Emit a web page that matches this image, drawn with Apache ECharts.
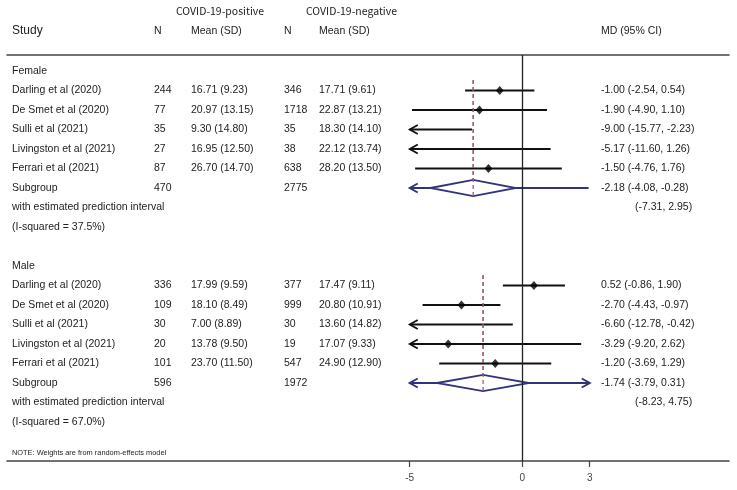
<!DOCTYPE html>
<html>
<head>
<meta charset="utf-8">
<script src="https://cdn.jsdelivr.net/npm/echarts@6/dist/echarts.min.js"></script>
<style>html,body{margin:0;padding:0;background:#fff}#c{width:737px;height:490px}</style>
</head>
<body>
<div id="c"></div>
<script>
// ---------- data ----------
const studies = ["Darling et al (2020)", "De Smet et al (2020)", "Sulli et al (2021)", "Livingston et al (2021)", "Ferrari et al (2021)"];

const femaleN1 = [244, 77, 35, 27, 87];
const femaleMean1 = [16.71, 20.97, 9.30, 16.95, 26.70];
const femaleSD1 = [9.23, 13.15, 14.80, 12.50, 14.70];
const femaleN2 = [346, 1718, 35, 38, 638];
const femaleMean2 = [17.71, 22.87, 18.30, 22.12, 28.20];
const femaleSD2 = [9.61, 13.21, 14.10, 13.74, 13.50];
const femaleMD = [-1.00, -1.90, -9.00, -5.17, -1.50];
const femaleLo = [-2.54, -4.90, -15.77, -11.60, -4.76];
const femaleHi = [0.54, 1.10, -2.23, 1.26, 1.76];
const femaleSub = { n1: 470, n2: 2775, md: -2.18, lo: -4.08, hi: -0.28, piLo: -7.31, piHi: 2.95, i2: "37.5" };

const maleN1 = [336, 109, 30, 20, 101];
const maleMean1 = [17.99, 18.10, 7.00, 13.78, 23.70];
const maleSD1 = [9.59, 8.49, 8.89, 9.50, 11.50];
const maleN2 = [377, 999, 30, 19, 547];
const maleMean2 = [17.47, 20.80, 13.60, 17.07, 24.90];
const maleSD2 = [9.11, 10.91, 14.82, 9.33, 12.90];
const maleMD = [0.52, -2.70, -6.60, -3.29, -1.20];
const maleLo = [-0.86, -4.43, -12.78, -9.20, -3.69];
const maleHi = [1.90, -0.97, -0.42, 2.62, 1.29];
const maleSub = { n1: 596, n2: 1972, md: -1.74, lo: -3.79, hi: 0.31, piLo: -8.23, piHi: 4.75, i2: "67.0" };

const xTicks = [-5, 0, 3];
const noteText = "NOTE: Weights are from random-effects model";

// ---------- layout ----------
const FONT = "'Liberation Sans', Arial, sans-serif";
const TXT = '#222';
const CLIP = [xTicks[0], xTicks[xTicks.length - 1]];
const YMIN = -0.8205, YMAX = 20.0;
const XMIN = -22.9, XMAX = 9.19;
const COL = { study: 12, n1: 154, m1: 191, n2: 284, m2: 319, md: 601, pi: 635 };
const f2 = v => v.toFixed(2);
const ms = (m, s) => f2(m) + " (" + f2(s) + ")";
const mdTxt = (m, l, h) => f2(m) + " (" + f2(l) + ", " + f2(h) + ")";

// build rows
const tableRows = [];
const ciData = [];
const ptData = [];
const diaData = [];
const piData = [];
const dashData = [];
function addGroup(name, start, N1, M1, S1, N2, M2, S2, MD, LO, HI, sub) {
  tableRows.push({ row: start, cells: [[COL.study, name]] });
  for (let i = 0; i < studies.length; i++) {
    const r = start + 1 + i;
    tableRows.push({ row: r, cells: [[COL.study, studies[i]], [COL.n1, String(N1[i])], [COL.m1, ms(M1[i], S1[i])],
      [COL.n2, String(N2[i])], [COL.m2, ms(M2[i], S2[i])], [COL.md, mdTxt(MD[i], LO[i], HI[i])]] });
    ciData.push([r, LO[i], HI[i]]);
    if (MD[i] >= CLIP[0] && MD[i] <= CLIP[1]) ptData.push([MD[i], r]);
  }
  const sr = start + 1 + studies.length;
  tableRows.push({ row: sr, cells: [[COL.study, "Subgroup"], [COL.n1, String(sub.n1)], [COL.n2, String(sub.n2)], [COL.md, mdTxt(sub.md, sub.lo, sub.hi)]] });
  tableRows.push({ row: sr + 1, cells: [[COL.study, "with estimated prediction interval"], [COL.pi, "(" + f2(sub.piLo) + ", " + f2(sub.piHi) + ")"]] });
  tableRows.push({ row: sr + 2, cells: [[COL.study, "(I-squared = " + sub.i2 + "%)"]] });
  piData.push([sr, sub.piLo, sub.piHi]);
  diaData.push([sr, sub.lo, sub.md, sub.hi]);
  dashData.push([sub.md, start + 0.46, sr + 0.42]);
}
addGroup("Female", 0, femaleN1, femaleMean1, femaleSD1, femaleN2, femaleMean2, femaleSD2, femaleMD, femaleLo, femaleHi, femaleSub);
addGroup("Male", 10, maleN1, maleMean1, maleSD1, maleN2, maleMean2, maleSD2, maleMD, maleLo, maleHi, maleSub);
tableRows.push({ row: 19.59, cells: [[COL.study, noteText]], small: true });

function arrowHead(p, dir, color, w) {
  return { type: 'polyline', shape: { points: [[p[0] - dir * 8, p[1] - 4.5], p, [p[0] - dir * 8, p[1] + 4.5]] },
    style: { stroke: color, lineWidth: w, fill: null } };
}
function clippedLine(api, row, lo, hi, color, w) {
  const a = Math.max(lo, CLIP[0]), b = Math.min(hi, CLIP[1]);
  const p1 = api.coord([a, row]), p2 = api.coord([b, row]);
  const ch = [{ type: 'line', shape: { x1: p1[0], y1: p1[1], x2: p2[0], y2: p2[1] }, style: { stroke: color, lineWidth: w } }];
  if (lo < CLIP[0]) ch.push(arrowHead(p1, -1, color, w));
  if (hi > CLIP[1]) ch.push(arrowHead(p2, 1, color, w));
  return ch;
}
function dashRender(params, api) {
  const p1 = api.coord([api.value(0), api.value(1)]), p2 = api.coord([api.value(0), api.value(2)]);
  return { type: 'line', shape: { x1: p1[0], y1: p1[1], x2: p2[0], y2: p2[1] },
    style: { stroke: '#a8606e', lineWidth: 1.3, lineDash: [4, 3] } };
}

const NAVY = '#33337a';
const chart = echarts.init(document.getElementById('c'), null, { renderer: 'canvas' });
chart.setOption({
  backgroundColor: '#fff',
  animation: false,
  grid: { left: 7, right: 8, top: 55, bottom: 29 },
  xAxis: [{
    type: 'value', min: XMIN, max: XMAX, position: 'bottom',
    axisLine: { show: true, onZero: false, lineStyle: { color: '#444', width: 1.6 } },
    axisTick: { show: true, customValues: xTicks, length: 6, lineStyle: { color: '#444', width: 1.2 } },
    axisLabel: { show: true, customValues: xTicks, color: '#444', fontSize: 10, fontFamily: FONT, margin: 12 },
    splitLine: { show: false }
  }, {
    type: 'value', min: XMIN, max: XMAX, position: 'top',
    axisLine: { show: true, onZero: false, lineStyle: { color: '#444', width: 1.6 } },
    axisTick: { show: false }, axisLabel: { show: false }, splitLine: { show: false }
  }],
  yAxis: { type: 'value', min: YMIN, max: YMAX, inverse: true, show: false },
  graphic: [
    { type: 'text', left: 176, top: 6, style: { text: 'COVID-19-positive', font: "10.5px 'Noto Sans CJK KR', sans-serif", fill: TXT } },
    { type: 'text', left: 306, top: 6, style: { text: 'COVID-19-negative', font: "10.5px 'Noto Sans CJK KR', sans-serif", fill: TXT } },
    { type: 'text', left: COL.study, top: 25, style: { text: 'Study', font: "12px " + FONT, fill: TXT } },
    { type: 'text', left: COL.n1, top: 26, style: { text: 'N', font: "10.5px " + FONT, fill: TXT } },
    { type: 'text', left: COL.m1, top: 26, style: { text: 'Mean (SD)', font: "10.5px " + FONT, fill: TXT } },
    { type: 'text', left: COL.n2, top: 26, style: { text: 'N', font: "10.5px " + FONT, fill: TXT } },
    { type: 'text', left: COL.m2, top: 26, style: { text: 'Mean (SD)', font: "10.5px " + FONT, fill: TXT } },
    { type: 'text', left: COL.md, top: 26, style: { text: 'MD (95% CI)', font: "10.5px " + FONT, fill: TXT } }
  ],
  series: [
    {
      type: 'line', data: [], silent: true,
      markLine: { symbol: 'none', silent: true, label: { show: false },
        lineStyle: { color: '#222', width: 1.3, type: 'solid' }, data: [{ xAxis: 0 }] }
    },
    {
      type: 'custom', silent: true, data: tableRows.map(r => [0, r.row]),
      encode: { x: 0, y: 1 }, clip: false,
      renderItem: function (params, api) {
        const tr = tableRows[params.dataIndex];
        const y = api.coord([0, tr.row])[1];
        return { type: 'group', children: tr.cells.map(c => ({
          type: 'text', x: c[0], y: y,
          style: { text: c[1], fill: TXT, font: (tr.small ? "7.4px " : "10.5px ") + FONT, verticalAlign: 'middle', align: 'left' }
        })) };
      }
    },
    { type: 'custom', silent: true, data: dashData, encode: { x: 0, y: [1, 2] }, renderItem: dashRender },
    {
      type: 'custom', silent: true, data: ciData, encode: { x: [1, 2], y: 0 },
      renderItem: function (params, api) {
        return { type: 'group', children: clippedLine(api, api.value(0), api.value(1), api.value(2), '#111', 1.8) };
      }
    },
    {
      type: 'custom', silent: true, data: piData, encode: { x: [1, 2], y: 0 },
      renderItem: function (params, api) {
        return { type: 'group', children: clippedLine(api, api.value(0), api.value(1), api.value(2), NAVY, 2) };
      }
    },
    {
      type: 'custom', silent: true, data: diaData, encode: { x: [1, 2, 3], y: 0 },
      renderItem: function (params, api) {
        const r = api.value(0), lo = api.value(1), md = api.value(2), hi = api.value(3);
        const pts = [api.coord([lo, r]), api.coord([md, r - 0.42]), api.coord([hi, r]), api.coord([md, r + 0.42])];
        return { type: 'polygon', shape: { points: pts }, style: { fill: '#fff', stroke: NAVY, lineWidth: 1.8 } };
      }
    },
    { type: 'custom', silent: true, data: dashData, encode: { x: 0, y: [1, 2] }, renderItem: dashRender },
    {
      type: 'scatter', silent: true, data: ptData, symbol: 'diamond', symbolSize: [8, 9],
      itemStyle: { color: '#000' }
    }
  ]
});
</script>
</body>
</html>
